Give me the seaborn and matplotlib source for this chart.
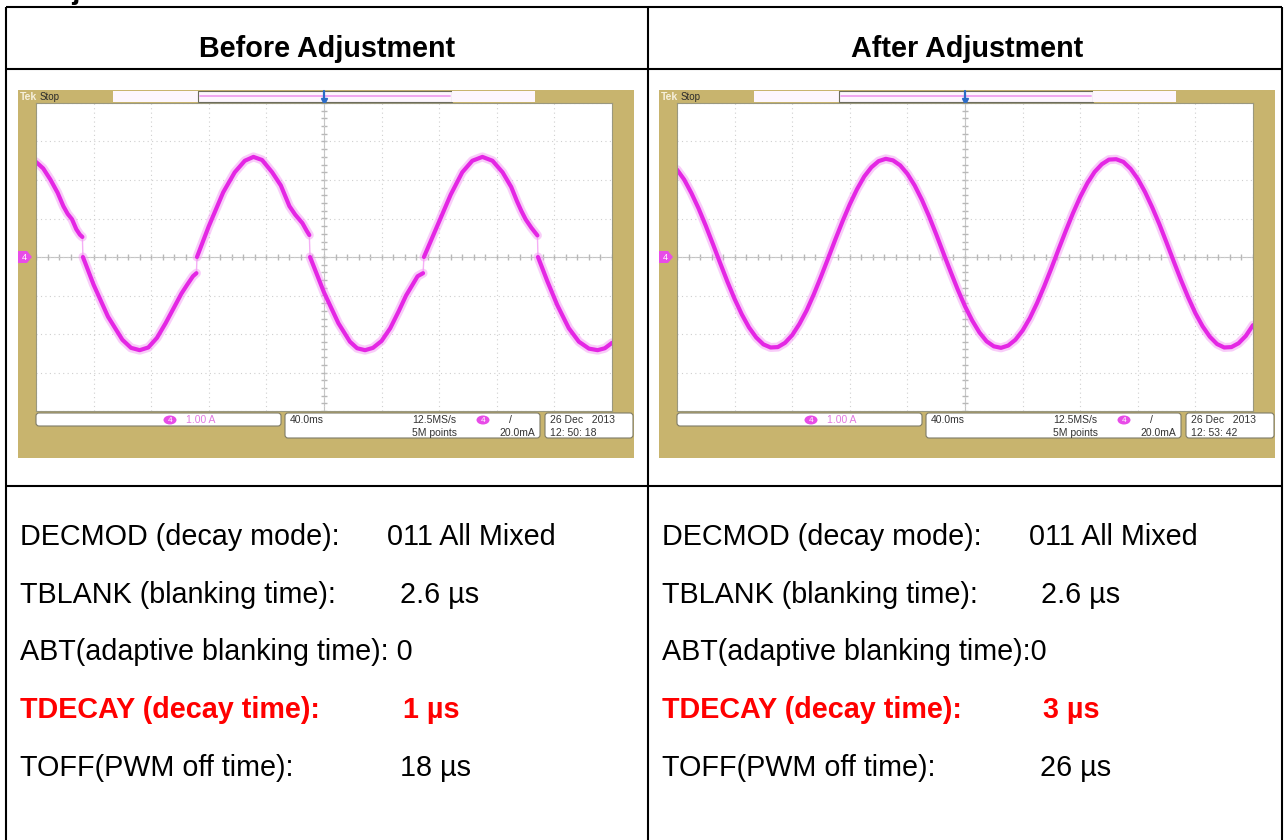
import numpy as np
import pandas as pd
import matplotlib
matplotlib.use("Agg")
import matplotlib.pyplot as plt
import seaborn as sns
from matplotlib.patches import Rectangle, FancyBboxPatch, Ellipse, Polygon

# column headers
headers = ["Before Adjustment", "After Adjustment"]

# register settings under each screenshot
labels_before = ["DECMOD (decay mode):", "TBLANK (blanking time):",
                 "ABT(adaptive blanking time): 0", "TDECAY (decay time):",
                 "TOFF(PWM off time):"]
values_before = ["011 All Mixed", "2.6 µs", "", "1 µs", "18 µs"]
labels_after = ["DECMOD (decay mode):", "TBLANK (blanking time):",
                "ABT(adaptive blanking time):0", "TDECAY (decay time):",
                "TOFF(PWM off time):"]
values_after = ["011 All Mixed", "2.6 µs", "", "3 µs", "26 µs"]
highlight = 3

# scope status lines
scope_dates = ["26 Dec   2013", "26 Dec   2013"]
scope_times = ["12: 50: 18", "12: 53: 42"]

# trace before adjustment (time in ms, current in A), split at the zero-crossing steps
before_t = [-200, -195, -190, -185, -181, -178, -175, -172, -169.5, -167.8,
            -167.4, -160, -150, -140, -134, -128, -122, -116, -110, -104, -99, -95, -91, -88.6,
            -88.2, -80, -70, -62, -55, -49, -43, -36, -30, -24, -20, -15, -12, -10.2,
            -9.7, 0, 10, 18, 23, 28.5, 34, 40, 46, 52, 57, 61, 65, 68.8,
            69.4, 78, 88, 96, 103, 110, 117, 124, 130, 134, 137, 140, 144, 148.2,
            148.6, 155, 162, 170, 177, 184, 190, 195, 200]
before_i = [2.47, 2.30, 2.01, 1.67, 1.32, 1.12, 0.98, 0.72, 0.58, 0.52,
            0.0, -0.72, -1.55, -2.15, -2.36, -2.42, -2.35, -2.10, -1.72, -1.30, -0.95, -0.72, -0.50, -0.42,
            0.0, 0.80, 1.68, 2.20, 2.50, 2.60, 2.52, 2.20, 1.86, 1.32, 1.10, 0.88, 0.68, 0.57,
            0.0, -0.92, -1.72, -2.20, -2.37, -2.42, -2.36, -2.18, -1.85, -1.40, -1.00, -0.75, -0.50, -0.42,
            0.0, 0.75, 1.62, 2.20, 2.50, 2.60, 2.50, 2.20, 1.82, 1.45, 1.20, 0.98, 0.76, 0.56,
            0.0, -0.62, -1.25, -1.85, -2.20, -2.38, -2.42, -2.37, -2.23]
before_seg = [0] * 10 + [1] * 14 + [2] * 14 + [3] * 14 + [4] * 14 + [5] * 9

# trace after adjustment
after_t = list(range(-200, 201, 5))
after_i = [2.27, 2.01, 1.66, 1.26, 0.81, 0.33, -0.16, -0.64, -1.09, -1.49,
           -1.83, -2.09, -2.27, -2.35, -2.34, -2.23, -2.03, -1.74, -1.39, -0.97,
           -0.51, -0.03, 0.46, 0.93, 1.37, 1.76, 2.09, 2.33, 2.49, 2.55,
           2.51, 2.38, 2.16, 1.86, 1.49, 1.06, 0.59, 0.10, -0.38, -0.85,
           -1.28, -1.65, -1.96, -2.19, -2.32, -2.36, -2.30, -2.15, -1.91, -1.59,
           -1.20, -0.76, -0.29, 0.20, 0.68, 1.14, 1.56, 1.92, 2.21, 2.41,
           2.53, 2.54, 2.47, 2.29, 2.03, 1.69, 1.29, 0.85, 0.37, -0.12,
           -0.60, -1.05, -1.46, -1.80, -2.07, -2.26, -2.35, -2.34, -2.24, -2.05,
           -1.77]
after_seg = [0] * len(after_t)

W, H = 1286, 840
TAN = "#C8B46E"
PINK = "#E426E4"
GLOW = "#F39AF3"

sns.set_style("white")
plt.rcParams["font.family"] = ["Liberation Sans", "DejaVu Sans"]
plt.rcParams["text.color"] = "black"
SCOPE_FONT = ["Liberation Sans Narrow", "Liberation Sans", "DejaVu Sans"]

fig = plt.figure(figsize=(W / 100, H / 100), dpi=100)
bg = fig.add_axes([0, 0, 1, 1])
bg.set_xlim(0, W)
bg.set_ylim(H, 0)
bg.axis("off")


def px_axes(x0, y0, x1, y1):
    return fig.add_axes([x0 / W, 1 - y1 / H, (x1 - x0) / W, (y1 - y0) / H])


# table grid
lw = 1.5
for x in [6, 648, 1282]:
    bg.plot([x, x], [7, H], color="black", lw=lw, solid_capstyle="butt")
for y in [7, 69, 486]:
    bg.plot([6, 1282], [y, y], color="black", lw=lw, solid_capstyle="butt")

# cut-off heading above the table
bg.text(34, -1, "Adjustment", fontsize=20.7, weight="bold", va="baseline", ha="left")

for k, h in enumerate(headers):
    bg.text(327 + 640 * k, 57, h, fontsize=20.7, weight="bold", ha="center", va="baseline")


def draw_scope(dx, t, i, seg, date, time):
    # bezel
    bg.add_patch(Rectangle((18 + dx, 90), 616, 368, fc=TAN, ec="none"))
    bg.add_patch(Rectangle((113 + dx, 91), 85, 11, fc="#FDF6FD", ec="none"))
    bg.add_patch(Rectangle((198 + dx, 91), 254, 11, fc="#FDF6FD", ec="#6b6b5a", lw=0.8))
    bg.add_patch(Rectangle((452 + dx, 91), 83, 11, fc="#FDF6FD", ec="none"))
    bg.plot([200 + dx, 450 + dx], [96, 96], color="#F0A6F0", lw=1.4)
    bg.plot([324 + dx, 324 + dx], [91, 100], color="#2a6bc8", lw=1.6)
    bg.plot([324 + dx], [101], marker="v", color="#2a6bc8", ms=5)
    bg.text(20 + dx, 97, "Tek", color="#F6F0DC", fontsize=7.5, weight="bold", va="center", family=SCOPE_FONT)
    bg.text(40 + dx, 97, "Stop", color="#2b2b2b", fontsize=7, va="center", family=SCOPE_FONT)
    # channel marker
    bg.add_patch(Polygon([(18 + dx, 251), (27 + dx, 251), (32 + dx, 257), (27 + dx, 263), (18 + dx, 263)],
                         closed=True, fc="#E84CE8", ec="none"))
    bg.text(24 + dx, 257, "4", color="white", fontsize=6.5, ha="center", va="center", family=SCOPE_FONT)
    # status boxes
    for x0, w, h in [(36, 245, 13), (285, 255, 25), (545, 88, 25)]:
        bg.add_patch(FancyBboxPatch((x0 + dx, 413), w, h, boxstyle="round,pad=0,rounding_size=3",
                                    fc="white", ec="#7d7b68", lw=0.8))
    for cx in [170, 483]:
        bg.add_patch(Ellipse((cx + dx, 420), 13, 9, fc="#E84CE8", ec="none"))
        bg.text(cx + dx, 420, "4", color="white", fontsize=6, ha="center", va="center", family=SCOPE_FONT)
    sty = dict(fontsize=7.5, va="center", family=SCOPE_FONT, color="#333333")
    bg.text(186 + dx, 420, "1.00 A", **{**sty, "color": "#E27AE2"})
    bg.text(290 + dx, 420, "40.0ms", **sty)
    bg.text(412 + dx, 420, "12.5MS/s", **sty)
    bg.text(412 + dx, 433, "5M points", **sty)
    bg.text(509 + dx, 420, "/", **sty)
    bg.text(499 + dx, 433, "20.0mA", **sty)
    bg.text(550 + dx, 420, date, **sty)
    bg.text(550 + dx, 433, time, **sty)

    # screen
    ax = px_axes(36 + dx, 103, 612 + dx, 411)
    ax.set_facecolor("white")
    df = pd.DataFrame({"t": t, "i": i, "seg": seg})
    # thin pale continuous trace shows the steps as faint links
    sns.lineplot(data=df, x="t", y="i", color=GLOW, estimator=None,
                 lw=1.0, alpha=0.8, ax=ax, legend=False)
    sns.lineplot(data=df, x="t", y="i", units="seg", estimator=None, color=GLOW,
                 lw=6.5, alpha=0.5, ax=ax, legend=False)
    sns.lineplot(data=df, x="t", y="i", units="seg", estimator=None, color=PINK,
                 lw=3.0, ax=ax, legend=False)
    ax.set_xlim(-200, 200)
    ax.set_ylim(-4, 4)
    ax.set_xticks(np.arange(-200, 201, 40))
    ax.set_yticks(np.arange(-4, 5, 1))
    ax.grid(True, color="#cfcfcf", linestyle=(0, (1, 3)), lw=0.8)
    ax.set_axisbelow(True)
    ax.axhline(0, color="#c4c4c4", lw=0.8, zorder=0)
    ax.axvline(0, color="#c4c4c4", lw=0.8, zorder=0)
    mx = np.arange(-200, 201, 8)
    my = np.arange(-4, 4.01, 0.2)
    ax.plot(mx, np.zeros_like(mx), ls="none", marker="|", ms=4, color="#b8b8b8", zorder=0)
    ax.plot(np.zeros_like(my), my, ls="none", marker="_", ms=4, color="#b8b8b8", zorder=0)
    ax.tick_params(length=0, labelbottom=False, labelleft=False)
    ax.set_xlabel("")
    ax.set_ylabel("")
    for s in ax.spines.values():
        s.set_color("#9a987f")
        s.set_linewidth(0.8)


draw_scope(0, before_t, before_i, before_seg, scope_dates[0], scope_times[0])
draw_scope(641, after_t, after_i, after_seg, scope_dates[1], scope_times[1])

rows_y = [545, 603, 660, 718, 776]
for k, (labels, values, vx) in enumerate([(labels_before, values_before, [387, 400, 0, 403, 400]),
                                          (labels_after, values_after, [1029, 1041, 0, 1043, 1040])]):
    x0 = 20 + 642 * k
    for r, (lab, val) in enumerate(zip(labels, values)):
        red = r == highlight
        kw = dict(fontsize=20.7, va="baseline", color="#FF0000" if red else "black",
                  weight="bold" if red else "normal")
        bg.text(x0, rows_y[r], lab, **kw)
        if val:
            bg.text(vx[r], rows_y[r], val, **kw)

fig.savefig("out.png", dpi=100)
